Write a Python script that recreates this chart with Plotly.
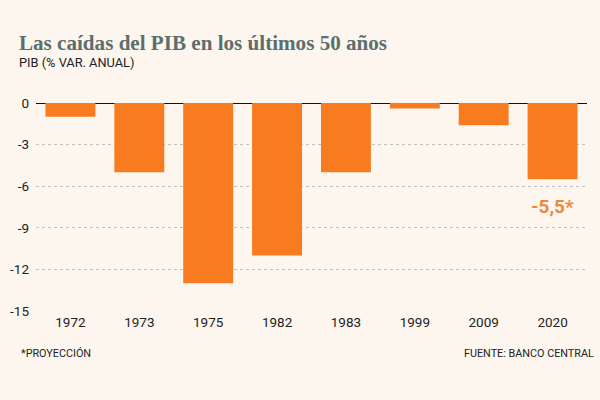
import plotly.graph_objects as go

years = ["1972", "1973", "1975", "1982", "1983", "1999", "2009", "2020"]
pib_change = [-1.0, -5.0, -13.0, -11.0, -5.0, -0.4, -1.6, -5.5]
y_ticks = [0, -3, -6, -9, -12, -15]

WIDTH = 600
HEIGHT = 400
BACKGROUND = "#FDF6EF"
ORANGE = "#F97B1F"
SANS = "Roboto"
MARGIN = {"l": 35.5, "r": 12.5, "t": 103, "b": 88.5, "pad": 0}
PLOT_W = WIDTH - MARGIN["l"] - MARGIN["r"]
PLOT_H = HEIGHT - MARGIN["t"] - MARGIN["b"]


# annotations in paper coords are relative to the plot area, so convert from page pixels
def paper_x(px):
    return (px - MARGIN["l"]) / PLOT_W


def paper_y(px):
    return 1 - (px - MARGIN["t"]) / PLOT_H


fig = go.Figure(
    go.Bar(x=years, y=pib_change, marker={"color": ORANGE, "line": {"width": 0}}, showlegend=False)
)

fig.update_layout(
    width=WIDTH,
    height=HEIGHT,
    autosize=False,
    paper_bgcolor=BACKGROUND,
    plot_bgcolor=BACKGROUND,
    margin=MARGIN,
    bargap=0.275,
    font={"family": SANS, "color": "#222222", "size": 13},
    xaxis={
        "type": "category",
        "automargin": False,
        "showgrid": False,
        "showline": False,
        "zeroline": False,
        "ticks": "",
        "ticklabelstandoff": 1,
        "tickfont": {"family": SANS, "size": 13.5, "color": "#222222"},
    },
    yaxis={
        "range": [-15, 0],
        "automargin": False,
        "tickvals": y_ticks,
        "ticktext": [str(v) for v in y_ticks],
        "ticks": "",
        "ticklabelstandoff": 6,
        "showline": False,
        "gridcolor": "#C4BFB7",
        "griddash": "dot",
        "gridwidth": 1,
        "zeroline": True,
        "zerolinecolor": "#111111",
        "zerolinewidth": 1,
        "tickfont": {"family": SANS, "size": 13.5, "color": "#222222"},
    },
    annotations=[
        {
            "text": "<b>Las caídas del PIB en los últimos 50 años</b>",
            "xref": "paper", "yref": "paper",
            "x": paper_x(16), "y": paper_y(43),
            "xanchor": "left", "yanchor": "middle", "showarrow": False,
            "font": {"family": "Liberation Serif", "size": 21.1, "color": "#5B6F6D"},
        },
        {
            "text": "PIB (% VAR. ANUAL)",
            "xref": "paper", "yref": "paper",
            "x": paper_x(16), "y": paper_y(62),
            "xanchor": "left", "yanchor": "middle", "showarrow": False,
            "font": {"family": SANS, "size": 12.8, "color": "#222222"},
        },
        {
            # category axis: a numeric-looking string would be read as an index
            "text": "<b>-5,5*</b>",
            "xref": "x", "yref": "y",
            "x": len(years) - 1, "y": pib_change[-1],
            "yshift": -14,
            "xanchor": "center", "yanchor": "top", "showarrow": False,
            "font": {"family": SANS, "size": 19, "color": "#E98A3A"},
        },
        {
            "text": "*PROYECCIÓN",
            "xref": "paper", "yref": "paper",
            "x": paper_x(18), "y": paper_y(354),
            "xanchor": "left", "yanchor": "middle", "showarrow": False,
            "font": {"family": SANS, "size": 10.8, "color": "#222222"},
        },
        {
            "text": "FUENTE: BANCO CENTRAL",
            "xref": "paper", "yref": "paper",
            "x": paper_x(596.5), "y": paper_y(354),
            "xanchor": "right", "yanchor": "middle", "showarrow": False,
            "font": {"family": SANS, "size": 10.8, "color": "#222222"},
        },
    ],
)

fig.write_html(
    "out.html",
    config={"displayModeBar": False},
    post_script="document.body.style.margin = '0';",
)
